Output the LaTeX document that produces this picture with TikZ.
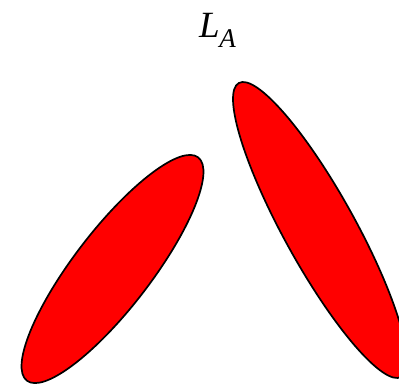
\documentclass[tikz,border=0pt]{standalone}
\usepackage{fontspec}
\setmainfont{Liberation Serif}
\begin{document}
\begin{tikzpicture}[x=1pt,y=1pt,
  blob/.style={draw=black, fill=red, line width=1.7pt},
  lbl/.style={inner sep=0pt, anchor=base west}]
\useasboundingbox (0,0) rectangle (399,384);
\begin{scope}
\clip (0,0) rectangle (399,384);
\coordinate (cl) at (112.5,115);
\coordinate (cr) at (320,154);
\draw[blob, rotate around={52.5:(cl)}] (cl) ellipse [x radius=140.7pt, y radius=38.6pt];
\draw[blob, rotate around={-61.1:(cr)}] (cr) ellipse [x radius=167.9pt, y radius=35.7pt];
\end{scope}
\node[lbl] (la) at (199,347) {\fontsize{37}{40}\selectfont\itshape L\kern-0.5pt\raisebox{-10pt}{\fontsize{27}{30}\selectfont A}};
\end{tikzpicture}
\end{document}
